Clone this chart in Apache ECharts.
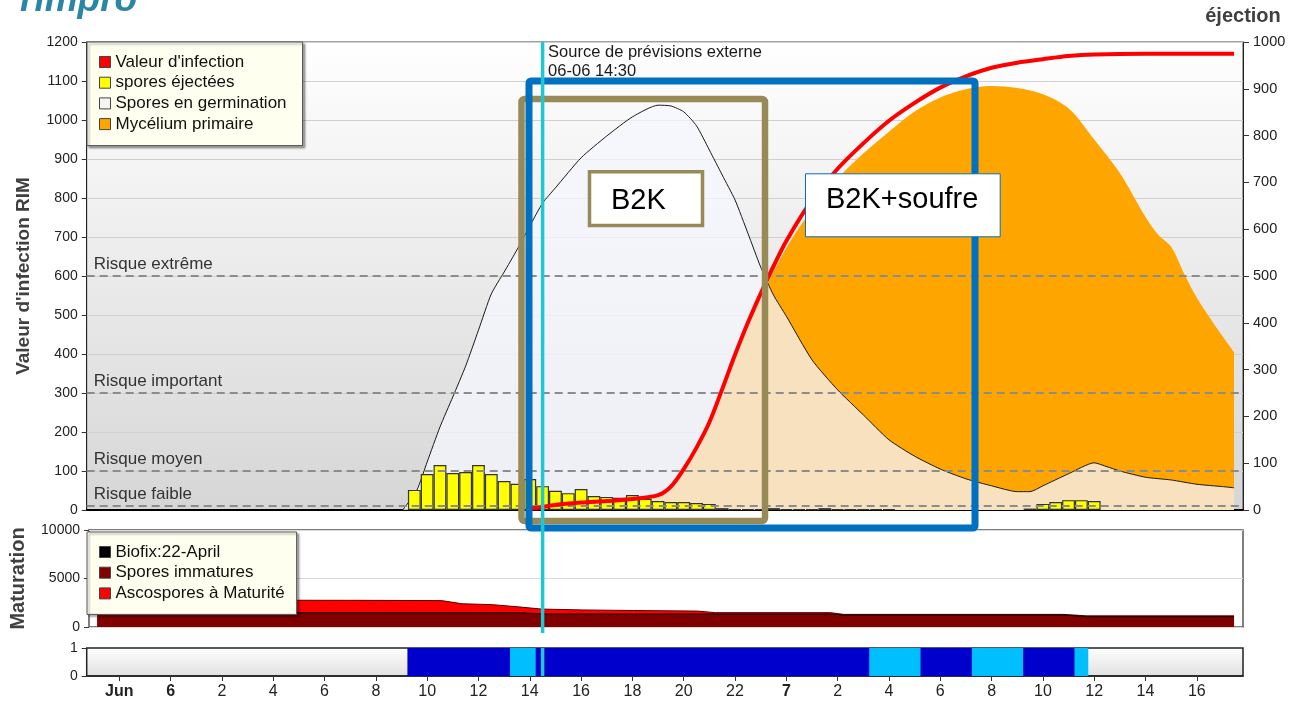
<!DOCTYPE html>
<html>
<head>
<meta charset="utf-8">
<title>RIMpro</title>
<script src="https://cdn.jsdelivr.net/npm/echarts@6.0.0/dist/echarts.min.js"></script>
<style>
html,body{margin:0;padding:0;background:#ffffff;}
#chart{width:1304px;height:702px;}
</style>
</head>
<body>
<div id="chart"></div>
<script>
// ---------- data (x = hours since 6 June 00:00) ----------
const axisStartHour = -3.27;
const axisEndHour = 41.8;
const tickHours = [-2,0,2,4,6,8,10,12,14,16,18,20,22,24,26,28,30,32,34,36,38,40];
const monthLabel = 'Jun';
const firstDay = 6;

const germHours  = [9.05,9.6,10,10.5,11,11.5,12,12.5,13,13.5,14,14.5,15,16,17,18,19,19.5,20,20.5,21,21.5,22,22.5,23,23.5,24,25,26,27,28,29,30,31,32,33,33.5,34,35,36,36.5,37,38,39,40,41,41.45];
const germValues = [0,51,123,213,290,369,461,554,610,667,728,787,826,903,959,1008,1038,1036,1021,985,923,859,795,710,623,551,497,385,308,244,180,138,105,80,62,47,47,62,93,121,111,100,84,77,66,60,57];

const rimHours  = [14,15,16,17,18,19,19.5,20,20.5,21,21.5,22,22.5,23,23.5,24,25,26,27,28,29,30,31,32,33,34,35,36,38,41.45];
const rimValues = [3,13,19,23,28,38,60,105,160,225,310,398,480,555,625,690,795,875,940,998,1044,1083,1112,1134,1147,1156,1164,1168,1170,1170];

const mycHours  = [14,15,16,17,18,19,19.5,20,20.5,21,21.5,22,22.5,23,23.5,24,25,26,27,28,29,30,31,32,33,34,35,36,37,38,38.5,39,39.5,40,40.7,41.45];
const mycValues = [2,10,16,20,25,34,55,98,152,218,302,386,468,542,610,672,772,850,914,970,1022,1058,1079,1087,1082,1066,1030,950,864,751,705,675,607,544,474,405];

const sporeFirstHour = 9.5;
const sporeStep = 0.5;
const sporeValues = [43,77,96,79,81,96,77,62,56,66,51,41,36,45,30,28,26,32,24,19,17,17,15,13,4,
                     2,2,2,4,2,2,2,4,2,2,2,2,2,
                     null,null,null,null,null,null,null,null,null,null,
                     3,13,17,21,21,19];

const wetFirstHour = 9.5;
const wetStep = 0.5;
const wetStates = [2,2,2,2,2,2,2,2, 1,1,
                   2,2,2,2,2,2,2,2,2,2,2,2,2,2,2,2,2,2,2,2,2,2,2,2,2,2,
                   1,1,1,1, 2,2,2,2, 1,1,1,1, 2,2,2,2, 1];

const matHours    = [-2.95,7,10.5,11.3,12.5,13.6,14.4,16,18,20.5,21.2,25.7,26.2,34.8,35.7,41.45];
const matureTop   = [2780,2750,2720,2400,2300,2050,1850,1760,1700,1640,1480,1480,1300,1300,1150,1150];
const immatureTop = [1470,1470,1470,1470,1470,1470,1340,1340,1340,1340,1340,1340,1240,1240,1060,1060];

const riskLevels = [600, 300, 100, 10];
const riskNames  = ['Risque extrême', 'Risque important', 'Risque moyen', 'Risque faible'];

const forecastHour = 14.5;
const forecastText = 'Source de prévisions externe\n06-06 14:30';

// ---------- chart ----------
const FONT = "'Liberation Sans', Arial, sans-serif";
const pair = (hs, vs) => hs.map((h, i) => [h, vs[i]]);
const plain = (v) => String(v);

function hourLabel(v) {
  if (v === tickHours[0]) return '{b|' + monthLabel + '}';
  const h = ((v % 24) + 24) % 24;
  if (h === 0) return '{b|' + (firstDay + Math.round(v / 24)) + '}';
  return String(h);
}

const chart = echarts.init(document.getElementById('chart'), null, {renderer: 'canvas'});

const mainBg = new echarts.graphic.LinearGradient(0, 0, 0, 1, [
  {offset: 0, color: '#ffffff'}, {offset: 1, color: '#d6d6d6'}]);
const stripBg = new echarts.graphic.LinearGradient(0, 0, 0, 1, [
  {offset: 0, color: '#ffffff'}, {offset: 1, color: '#e0e0e0'}]);

const xBase = (gi) => ({
  gridIndex: gi, type: 'value', min: axisStartHour, max: axisEndHour,
  splitLine: {show: false}, axisLabel: {show: false}, axisTick: {show: false},
  axisLine: {show: false, onZero: false}
});

const legendCommon = {
  orient: 'vertical', left: 87, icon: 'rect', itemWidth: 11, itemHeight: 11,
  itemGap: 3.7, backgroundColor: '#FFFFF0', borderColor: '#555', borderWidth: 1,
  shadowColor: 'rgba(0,0,0,0.35)', shadowBlur: 2, shadowOffsetX: 2, shadowOffsetY: 2,
  selectedMode: false,
  textStyle: {fontSize: 17, color: '#111', fontFamily: FONT}
};
const legItem = (name, color) => ({name, itemStyle: {color, borderColor: '#444', borderWidth: 1}});

const option = {
  animation: false,
  textStyle: {fontFamily: FONT},
  grid: [
    {left: 86.7, right: 61, top: 42, height: 468, show: true, backgroundColor: mainBg, borderColor: '#444', borderWidth: 1},
    {left: 86.7, right: 61, top: 530, height: 97, show: true, backgroundColor: '#ffffff', borderColor: '#555', borderWidth: 1.5},
    {left: 86.7, right: 61, top: 648, height: 28, show: true, backgroundColor: stripBg, borderColor: '#222', borderWidth: 1.5}
  ],
  xAxis: [
    Object.assign(xBase(0), {axisLine: {show: true, onZero: false, lineStyle: {color: '#000', width: 2}}}),
    xBase(1),
    Object.assign(xBase(2), {
      axisLine: {show: true, onZero: false, lineStyle: {color: '#222', width: 1.5}},
      axisTick: {show: true, customValues: tickHours, length: 5, lineStyle: {color: '#333'}},
      axisLabel: {show: true, customValues: tickHours, formatter: hourLabel, margin: 8,
        fontSize: 16, color: '#222', fontFamily: FONT,
        rich: {b: {fontWeight: 'bold', fontSize: 16, color: '#222', fontFamily: FONT}}}
    })
  ],
  yAxis: [
    {gridIndex: 0, type: 'value', min: 0, max: 1200, interval: 100,
      name: "Valeur d'infection RIM", nameLocation: 'middle', nameGap: 53,
      nameTextStyle: {fontSize: 19, fontWeight: 'bold', color: '#404040', fontFamily: FONT},
      axisLine: {show: true, onZero: false, lineStyle: {color: '#222'}},
      axisTick: {show: true, length: 5, lineStyle: {color: '#333'}},
      axisLabel: {fontSize: 14, color: '#222', margin: 9, formatter: plain},
      splitLine: {show: true, lineStyle: {color: '#d0d0d0', width: 1.2}}},
    {gridIndex: 0, type: 'value', position: 'right', min: 0, max: 1000, interval: 100,
      name: 'éjection', nameLocation: 'end', nameGap: 16,
      nameTextStyle: {fontSize: 20, fontWeight: 'bold', color: '#404040', fontFamily: FONT},
      axisLine: {show: true, onZero: false, lineStyle: {color: '#222'}},
      axisTick: {show: true, length: 6, lineStyle: {color: '#333'}},
      axisLabel: {fontSize: 14.5, color: '#222', margin: 10, formatter: plain},
      splitLine: {show: false}},
    {gridIndex: 1, type: 'value', min: 0, max: 10000, interval: 5000,
      name: 'Maturation', nameLocation: 'middle', nameGap: 61,
      nameTextStyle: {fontSize: 20, fontWeight: 'bold', color: '#404040', fontFamily: FONT},
      axisLine: {show: false, onZero: false},
      axisTick: {show: true, length: 5, lineStyle: {color: '#333'}},
      axisLabel: {fontSize: 14, color: '#222', margin: 9, formatter: plain},
      splitLine: {show: true, lineStyle: {color: '#d8d8d8', width: 1.2}}},
    {gridIndex: 2, type: 'value', min: 0, max: 1, interval: 1,
      axisLine: {show: false, onZero: false},
      axisTick: {show: true, length: 5, lineStyle: {color: '#333'}},
      axisLabel: {fontSize: 14, color: '#222', margin: 9, formatter: plain},
      splitLine: {show: false}}
  ],
  legend: [
    Object.assign({}, legendCommon, {top: 42, padding: [11.5, 16, 13, 12],
      data: [legItem("Valeur d'infection", '#FF0000'), legItem('spores éjectées', '#FFFF00'),
             legItem('Spores en germination', '#F4F4F4'), legItem('Mycélium primaire', '#FFA500')]}),
    Object.assign({}, legendCommon, {top: 532, padding: [11.5, 12, 12.5, 12],
      data: [legItem('Biofix:22-April', '#000000'), legItem('Spores immatures', '#800000'),
             legItem('Ascospores à Maturité', '#FF0000')]})
  ],
  series: [
    {name: 'Mycélium primaire', type: 'line', xAxisIndex: 0, yAxisIndex: 0,
      data: pair(mycHours, mycValues), smooth: 0.3, symbol: 'none',
      lineStyle: {width: 0}, areaStyle: {color: '#FFA500', opacity: 1},
      itemStyle: {color: '#FFA500'}, z: 1, silent: true},
    {name: 'Spores en germination', type: 'line', xAxisIndex: 0, yAxisIndex: 0,
      data: pair(germHours, germValues), smooth: 0.2, symbol: 'none',
      lineStyle: {color: '#1a1a1a', width: 1},
      areaStyle: {color: 'rgba(245,245,255,0.75)', opacity: 1},
      itemStyle: {color: '#F4F4F4'}, z: 2, silent: true,
      markLine: {
        silent: true, symbol: ['none', 'none'], animation: false,
        lineStyle: {color: '#8c8c8c', type: [8, 5], width: 2},
        label: {show: true, position: 'insideStartTop', formatter: '{b}', color: '#333',
          fontSize: 17, fontFamily: FONT, distance: [7, 3]},
        emphasis: {disabled: true},
        data: riskLevels.map((v, i) => ({yAxis: v, name: riskNames[i]}))
      }},
    {name: 'spores éjectées', type: 'bar', xAxisIndex: 0, yAxisIndex: 1,
      data: sporeValues.map((v, i) => [sporeFirstHour + i * sporeStep, v]),
      barWidth: 12.8, itemStyle: {color: '#FFFF00', borderColor: '#333', borderWidth: 1.2},
      z: 3, silent: true},
    {name: "Valeur d'infection", type: 'line', xAxisIndex: 0, yAxisIndex: 0,
      data: pair(rimHours, rimValues), smooth: 0.3, symbol: 'none',
      lineStyle: {color: '#FF0000', width: 4}, itemStyle: {color: '#FF0000'}, z: 6, silent: true},
    {name: 'Biofix:22-April', type: 'line', xAxisIndex: 1, yAxisIndex: 2, data: [],
      itemStyle: {color: '#000'}},
    {name: 'Ascospores à Maturité', type: 'line', xAxisIndex: 1, yAxisIndex: 2,
      data: pair(matHours, matureTop), symbol: 'none',
      lineStyle: {color: '#5a0000', width: 1}, areaStyle: {color: '#FF0000', opacity: 1},
      itemStyle: {color: '#FF0000'}, z: 2, silent: true},
    {name: 'Spores immatures', type: 'line', xAxisIndex: 1, yAxisIndex: 2,
      data: pair(matHours, immatureTop), symbol: 'none',
      lineStyle: {color: '#000', width: 1}, areaStyle: {color: '#800000', opacity: 1},
      itemStyle: {color: '#800000'}, z: 3, silent: true},
    {name: 'wetness', type: 'bar', xAxisIndex: 2, yAxisIndex: 3,
      data: wetStates.map((s, i) => ({value: [wetFirstHour + i * wetStep, 1],
        itemStyle: {color: s === 2 ? '#0000CC' : '#00BFFF'}})),
      barWidth: 13.8, itemStyle: {borderWidth: 0}, silent: true}
  ]
};

chart.setOption(option);

// ---------- annotations ----------
const olive = '#978A57', blue = '#0070C0', cyan = '#1DC8D2';
const fx = chart.convertToPixel({xAxisIndex: 0}, forecastHour);
const yTop = chart.convertToPixel({yAxisIndex: 0}, 1200);
const yMatBottom = chart.convertToPixel({yAxisIndex: 2}, 0);
const yStripTop = chart.convertToPixel({yAxisIndex: 3}, 1);
const yStripBottom = chart.convertToPixel({yAxisIndex: 3}, 0);

chart.setOption({
  graphic: [
    {type: 'text', x: 20, y: 0.5, z: 50, silent: true,
      style: {text: 'rimpro', font: 'italic bold 37px ' + FONT, fill: '#2B86A6',
        verticalAlign: 'middle', textVerticalAlign: 'middle'}},
    {type: 'rect', z: 50, silent: true, shape: {x: 521.5, y: 99, width: 243.5, height: 422, r: 3},
      style: {fill: 'none', stroke: olive, lineWidth: 6.5}},
    {type: 'rect', z: 51, silent: true, shape: {x: 529, y: 81, width: 446, height: 447, r: 2},
      style: {fill: 'none', stroke: blue, lineWidth: 7}},
    {type: 'rect', z: 52, silent: true, shape: {x: 589.5, y: 171.8, width: 113, height: 53.7},
      style: {fill: '#ffffff', stroke: olive, lineWidth: 3.5}},
    {type: 'text', x: 611, y: 200.8, z: 53, silent: true,
      style: {text: 'B2K', font: '29px ' + FONT, fill: '#000',
        verticalAlign: 'middle', textVerticalAlign: 'middle'}},
    {type: 'rect', z: 52, silent: true, shape: {x: 805.5, y: 173.8, width: 194.7, height: 63},
      style: {fill: '#ffffff', stroke: blue, lineWidth: 1}},
    {type: 'text', x: 826, y: 200.3, z: 53, silent: true,
      style: {text: 'B2K+soufre', font: '29px ' + FONT, fill: '#000',
        verticalAlign: 'middle', textVerticalAlign: 'middle'}},
    {type: 'line', z: 60, silent: true,
      shape: {x1: fx, y1: yTop, x2: fx, y2: yMatBottom + 6},
      style: {stroke: cyan, lineWidth: 3.5}},
    {type: 'line', z: 60, silent: true,
      shape: {x1: fx, y1: yStripTop, x2: fx, y2: yStripBottom},
      style: {stroke: cyan, lineWidth: 3.5}},
    {type: 'text', x: fx + 5.5, y: yTop + 0.5, z: 60, silent: true,
      style: {text: forecastText, font: '16.5px ' + FONT, fill: '#1a1a1a', lineHeight: 19,
        verticalAlign: 'top', textVerticalAlign: 'top'}}
  ]
});
</script>
</body>
</html>
